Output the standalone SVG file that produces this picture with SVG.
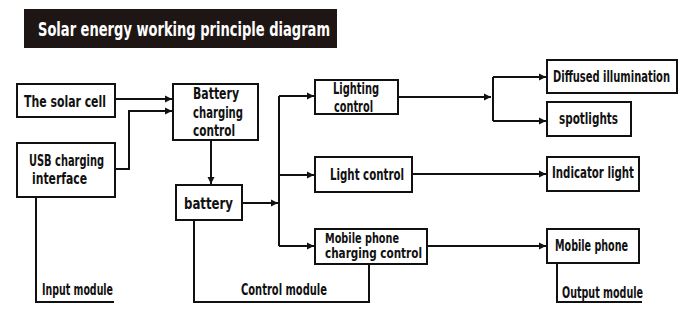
<svg xmlns="http://www.w3.org/2000/svg" width="694" height="320" viewBox="0 0 694 320">
<defs>
<marker id="ah" markerWidth="8" markerHeight="8" refX="7" refY="4" orient="auto" markerUnits="userSpaceOnUse">
<path d="M0,0.5 L7,4 L0,7.5 Z" fill="#111"/>
</marker>
<style>
.box{fill:#fff;stroke:#111;stroke-width:2}
.t{font-family:"DejaVu Sans Condensed","DejaVu Sans",sans-serif;font-weight:bold;font-size:16px;fill:#111}
.s{font-size:14px}
.c{fill:none;stroke:#111;stroke-width:2}
.a{fill:none;stroke:#111;stroke-width:2;marker-end:url(#ah)}
</style>
</defs>
<rect width="694" height="320" fill="#fff"/>
<g id="title">
<rect x="24" y="9" width="313" height="39" fill="#1e1614"/>
<text x="38" y="36" font-family="'DejaVu Sans Condensed','DejaVu Sans',sans-serif" font-weight="bold" font-size="19" fill="#fff" textLength="292" lengthAdjust="spacingAndGlyphs">Solar energy working principle diagram</text>
</g>
<g id="connectors">
<path class="a" d="M115,99 H172"/>
<path class="a" d="M115,169 H129 V111 H172"/>
<path class="a" d="M211,140 V184"/>
<path class="a" d="M242,203 H278"/>
<path class="c" d="M279,96 V246"/>
<path class="a" d="M279,96 H314"/>
<path class="a" d="M279,175 H314"/>
<path class="a" d="M279,246 H314"/>
<path class="a" d="M398,97 H491"/>
<path class="c" d="M493,77 V121"/>
<path class="a" d="M493,77 H546"/>
<path class="a" d="M493,121 H546"/>
<path class="a" d="M412,174 H546"/>
<path class="a" d="M427,246 H546"/>
<path class="c" d="M369,264 V302 H194 V220"/>
<path class="c" d="M36,197 V302 H114"/>
<path class="c" d="M557,263 V302 H642"/>
</g>
<g id="solar-cell">
<rect class="box" x="17" y="84" width="98" height="33"/>
<text class="t" x="24" y="107" textLength="82" lengthAdjust="spacingAndGlyphs">The solar cell</text>
</g>
<g id="usb-charging">
<rect class="box" x="17" y="143" width="98" height="54"/>
<text class="t" x="29" y="166" textLength="75" lengthAdjust="spacingAndGlyphs">USB charging</text>
<text class="t" x="32" y="184" textLength="55" lengthAdjust="spacingAndGlyphs">interface</text>
</g>
<g id="battery-charging-control">
<rect class="box" x="173" y="84" width="85" height="56"/>
<text class="t" x="193" y="99" textLength="46" lengthAdjust="spacingAndGlyphs">Battery</text>
<text class="t" x="193" y="118" textLength="50" lengthAdjust="spacingAndGlyphs">charging</text>
<text class="t" x="193" y="136" textLength="42" lengthAdjust="spacingAndGlyphs">control</text>
</g>
<g id="battery">
<rect class="box" x="176" y="185" width="66" height="35"/>
<text class="t" x="184" y="209" textLength="49" lengthAdjust="spacingAndGlyphs">battery</text>
</g>
<g id="lighting-control">
<rect class="box" x="315" y="80" width="83" height="34"/>
<text class="t" x="333" y="94" textLength="46" lengthAdjust="spacingAndGlyphs">Lighting</text>
<text class="t" x="334" y="112" textLength="39" lengthAdjust="spacingAndGlyphs">control</text>
</g>
<g id="light-control">
<rect class="box" x="315" y="157" width="97" height="35"/>
<text class="t" x="330" y="180" textLength="74" lengthAdjust="spacingAndGlyphs">Light control</text>
</g>
<g id="mobile-phone-charging-control">
<rect class="box" x="315" y="229" width="112" height="35"/>
<text class="t s" x="325" y="243" textLength="74" lengthAdjust="spacingAndGlyphs">Mobile phone</text>
<text class="t s" x="325" y="258" textLength="97" lengthAdjust="spacingAndGlyphs">charging control</text>
</g>
<g id="diffused-illumination">
<rect class="box" x="547" y="60" width="130" height="33"/>
<text class="t" x="553" y="82" textLength="117" lengthAdjust="spacingAndGlyphs">Diffused illumination</text>
</g>
<g id="spotlights">
<rect class="box" x="547" y="102" width="84" height="34"/>
<text class="t" x="559" y="124" textLength="59" lengthAdjust="spacingAndGlyphs">spotlights</text>
</g>
<g id="indicator-light">
<rect class="box" x="547" y="157" width="92" height="34"/>
<text class="t" x="552" y="178" textLength="82" lengthAdjust="spacingAndGlyphs">Indicator light</text>
</g>
<g id="mobile-phone">
<rect class="box" x="547" y="229" width="92" height="34"/>
<text class="t" x="555" y="251" textLength="73" lengthAdjust="spacingAndGlyphs">Mobile phone</text>
</g>
<g id="input-module">
<text class="t" x="42" y="295" textLength="71" lengthAdjust="spacingAndGlyphs">Input module</text>
</g>
<g id="control-module">
<text class="t" x="241" y="295" textLength="86" lengthAdjust="spacingAndGlyphs">Control module</text>
</g>
<g id="output-module">
<text class="t" x="562" y="298" textLength="81" lengthAdjust="spacingAndGlyphs">Output module</text>
</g>
</svg>
